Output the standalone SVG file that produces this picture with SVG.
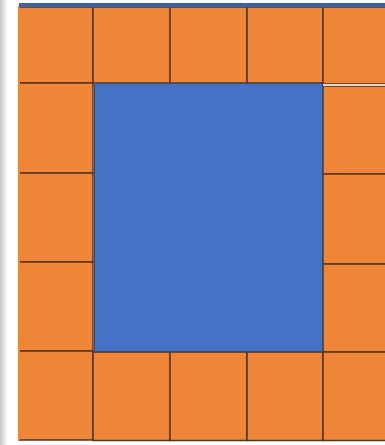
<svg xmlns="http://www.w3.org/2000/svg" width="385" height="445" viewBox="0 0 385 445">
<defs>
<linearGradient id="edge" x1="0" y1="0" x2="1" y2="0">
<stop offset="0" stop-color="#c8c8c8"/>
<stop offset="1" stop-color="#ffffff"/>
</linearGradient>
</defs>
<style>
.cell{fill:#EF8536;stroke:#55351f;stroke-width:1.5}
.center{fill:#4472C4;stroke:#3a4a6a;stroke-width:1}
</style>
<rect x="0" y="0" width="385" height="445" fill="#ffffff"/>
<rect x="0" y="0" width="8" height="445" fill="url(#edge)"/>
<g id="top-row">
<rect id="t1" class="cell" x="19" y="7" width="74" height="76"/>
<rect id="t2" class="cell" x="93" y="7" width="77" height="76"/>
<rect id="t3" class="cell" x="170" y="7" width="77" height="76"/>
<rect id="t4" class="cell" x="247" y="7" width="76" height="76"/>
<rect id="t5" class="cell" x="323" y="7" width="64" height="77"/>
</g>
<g id="left-col">
<rect id="l1" class="cell" x="19" y="83" width="74" height="90"/>
<rect id="l2" class="cell" x="19" y="173" width="74" height="89"/>
<rect id="l3" class="cell" x="19" y="262" width="74" height="89"/>
</g>
<g id="right-col">
<rect id="r1" class="cell" x="323" y="86" width="64" height="88"/>
<rect id="r2" class="cell" x="323" y="174" width="64" height="90"/>
<rect id="r3" class="cell" x="323" y="264" width="64" height="88"/>
</g>
<g id="bottom-row">
<rect id="b1" class="cell" x="19" y="351" width="74" height="89"/>
<rect id="b2" class="cell" x="93" y="352" width="77" height="88.5"/>
<rect id="b3" class="cell" x="170" y="352" width="77" height="88.5"/>
<rect id="b4" class="cell" x="247" y="352" width="76" height="88.5"/>
<rect id="b5" class="cell" x="323" y="352" width="64" height="88.5"/>
</g>
<rect x="18" y="7" width="2" height="433" fill="#EF8536"/>
<rect x="19" y="3" width="366" height="4.5" fill="#3f5f9f"/>
<line x1="323" y1="85" x2="385" y2="85" stroke="#d8d8d8" stroke-width="2"/>
<g id="center">
<rect class="center" x="94.5" y="83.5" width="228" height="268"/>
</g>
</svg>
